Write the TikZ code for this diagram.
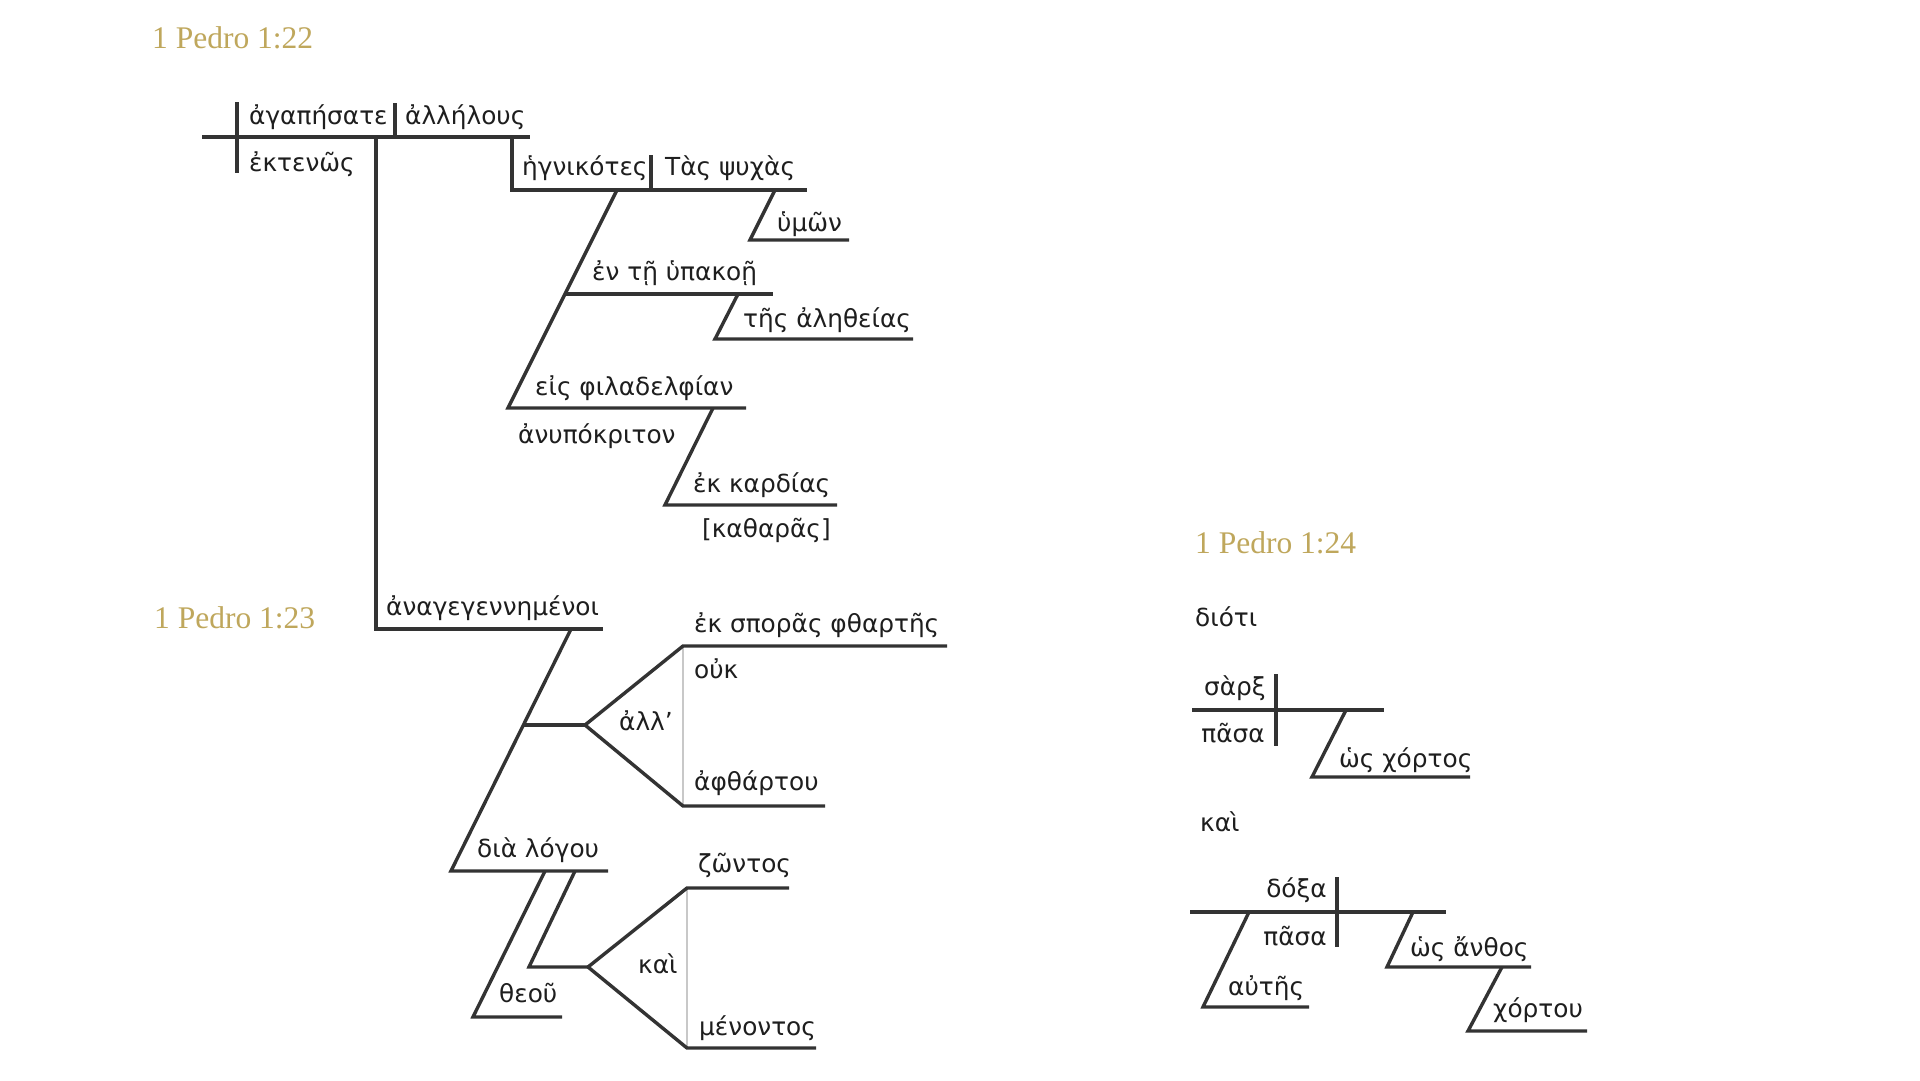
\documentclass[tikz,border=0pt]{standalone}
\usepackage{fontspec}
\setmainfont{DejaVu Sans}
\newfontfamily\titlefont{Liberation Serif}
\definecolor{gold}{HTML}{BFA75C}
\definecolor{linec}{HTML}{333333}
\definecolor{lightg}{HTML}{C8C8C8}
\definecolor{txt}{HTML}{1E1E1E}
\tikzset{
  ln/.style={draw=linec, line width=3.4pt, line join=miter},
  gr/.style={draw=lightg, line width=2pt},
  gk/.style={anchor=base west, inner sep=0pt, font=\fontsize{24.8}{28}\selectfont, text=txt},
  gkr/.style={gk, anchor=base east},
  ttl/.style={anchor=base west, inner sep=0pt, font=\titlefont\fontsize{31.5}{34}\selectfont, text=gold}
}
\begin{document}
\begin{tikzpicture}[x=1pt,y=-1pt]
\useasboundingbox[fill=white] (0,0) rectangle (1920,1080);

% titles
\node[ttl] (t22) at (152,48) {1 Pedro 1:22};
\node[ttl] (t23) at (154,628) {1 Pedro 1:23};
\node[ttl] (t24) at (1195,553) {1 Pedro 1:24};

% ---- 1 Pedro 1:22
\draw[ln] (202,137) -- (530,137);
\draw[ln] (237,102) -- (237,173);
\draw[ln] (395,103) -- (395,137);
\draw[ln] (376,137) -- (376,629) -- (603,629);
\draw[ln] (512,137) -- (512,190) -- (807,190);
\draw[ln] (651,155) -- (651,190);
\draw[ln] (775,190) -- (750,240) -- (849,240);
\draw[ln] (617,190) -- (508,408) -- (746,408);
\draw[ln] (565,294) -- (773,294);
\draw[ln] (738,294) -- (715,339) -- (913,339);
\draw[ln] (713,408) -- (665,505) -- (837,505);

\node[gk] (w1) at (249,124) {ἀγαπήσατε};
\node[gk] (w2) at (405,124) {ἀλλήλους};
\node[gk] (w3) at (249,171) {ἐκτενῶς};
\node[gk] (w4) at (522,175) {ἡγνικότες};
\node[gk] (w5) at (665,175) {Τὰς ψυχὰς};
\node[gk] (w6) at (777,231) {ὑμῶν};
\node[gk] (w7) at (592,280) {ἐν τῇ ὑπακοῇ};
\node[gk] (w8) at (743,327) {τῆς ἀληθείας};
\node[gk] (w9) at (535,395) {εἰς φιλαδελφίαν};
\node[gk] (w10) at (518,443) {ἀνυπόκριτον};
\node[gk] (w11) at (693,492) {ἐκ καρδίας};
\node[gk] (w12) at (702,537) {[καθαρᾶς]};

% ---- 1 Pedro 1:23
\draw[gr] (683,646) -- (683,806);
\draw[gr] (687,888) -- (687,1048);
\draw[ln] (571,629) -- (451,871) -- (608,871);
\draw[ln] (523,725) -- (585,725);
\draw[ln] (947,646) -- (683,646) -- (585,725) -- (683,806) -- (825,806);
\draw[ln] (545,871) -- (473,1017) -- (562,1017);
\draw[ln] (575,871) -- (529,967) -- (588,967);
\draw[ln] (789,888) -- (687,888) -- (588,967) -- (687,1048) -- (816,1048);

\node[gk] (v1) at (386,615) {ἀναγεγεννημένοι};
\node[gk] (v2) at (694,632) {ἐκ σπορᾶς φθαρτῆς};
\node[gk] (v3) at (694,678) {οὐκ};
\node[gk] (v4) at (619,730) {ἀλλ’};
\node[gk] (v5) at (694,790) {ἀφθάρτου};
\node[gk] (v6) at (477,857) {διὰ λόγου};
\node[gk] (v7) at (499,1002) {θεοῦ};
\node[gk] (v8) at (698,872) {ζῶντος};
\node[gk] (v9) at (638,973) {καὶ};
\node[gk] (v10) at (699,1035) {μένοντος};

% ---- 1 Pedro 1:24
\draw[ln] (1192,710) -- (1384,710);
\draw[ln] (1276,674) -- (1276,746);
\draw[ln] (1346,710) -- (1312,777) -- (1470,777);
\draw[ln] (1190,912) -- (1446,912);
\draw[ln] (1337,877) -- (1337,947);
\draw[ln] (1249,912) -- (1203,1007) -- (1309,1007);
\draw[ln] (1413,912) -- (1387,967) -- (1531,967);
\draw[ln] (1502,967) -- (1468,1031) -- (1587,1031);

\node[gk] (u1) at (1195,626) {διότι};
\node[gkr] (u2) at (1266,695) {σὰρξ};
\node[gkr] (u3) at (1265,742) {πᾶσα};
\node[gk] (u4) at (1339,767) {ὡς χόρτος};
\node[gk] (u5) at (1200,831) {καὶ};
\node[gkr] (u6) at (1327,897) {δόξα};
\node[gkr] (u7) at (1327,945) {πᾶσα};
\node[gk] (u8) at (1228,995) {αὐτῆς};
\node[gk] (u9) at (1410,956) {ὡς ἄνθος};
\node[gk] (u10) at (1493,1017) {χόρτου};
\end{tikzpicture}
\end{document}
